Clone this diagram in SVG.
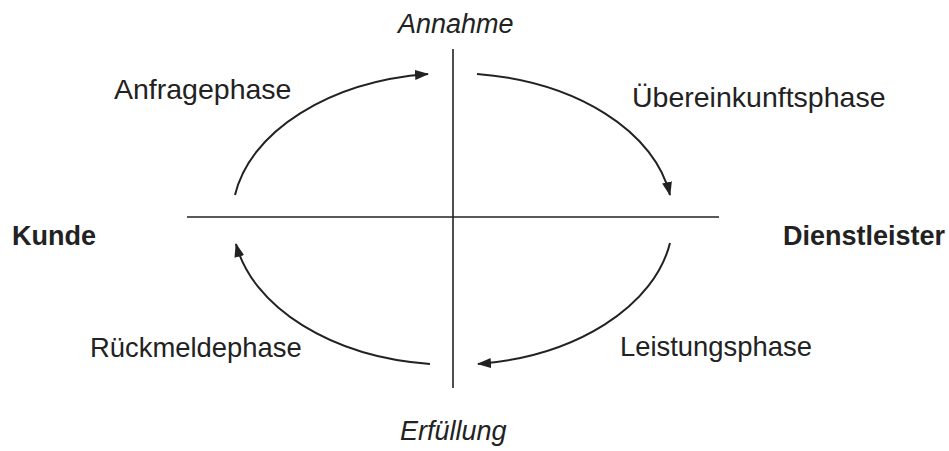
<svg xmlns="http://www.w3.org/2000/svg" width="949" height="451" viewBox="0 0 949 451">
<style>
text{font-family:"Liberation Sans",Arial,sans-serif;font-size:28.5px;fill:#222}
.it{font-style:italic;font-size:27px}
.b{font-weight:bold;font-size:27px}
.s{font-size:27.4px}
.ax{stroke:#222;stroke-width:1.6;fill:none}
.arc{stroke:#222;stroke-width:2;fill:none;marker-end:url(#ah)}
</style>
<defs>
<marker id="ah" viewBox="0 0 14 10" refX="13" refY="5" markerWidth="14" markerHeight="10" markerUnits="userSpaceOnUse" orient="auto">
<path d="M0,0 L14,5 L0,10 Z" fill="#222"/>
</marker>
</defs>
<g id="axes">
<line class="ax" x1="453" y1="49" x2="453" y2="388"/>
<line class="ax" x1="187" y1="217" x2="719" y2="217"/>
</g>
<g id="connectors">
<path class="arc" d="M235,195 A221,144 0 0 1 428,74"/>
<path class="arc" d="M477,74 A221,144 0 0 1 670,195"/>
<path class="arc" d="M670,243 A221,146 0 0 1 478,364"/>
<path class="arc" d="M430,364 A221,146 0 0 1 236,244"/>
</g>
<g id="annahme"><text class="it" x="398" y="33">Annahme</text></g>
<g id="erfuellung"><text class="it" x="400" y="440">Erfüllung</text></g>
<g id="kunde"><text class="b" x="12" y="245">Kunde</text></g>
<g id="dienstleister"><text class="b" x="783" y="245">Dienstleister</text></g>
<g id="anfragephase"><text x="114" y="99">Anfragephase</text></g>
<g id="uebereinkunftsphase"><text x="632" y="107">Übereinkunftsphase</text></g>
<g id="rueckmeldephase"><text class="s" x="90" y="357">Rückmeldephase</text></g>
<g id="leistungsphase"><text class="s" x="620" y="356">Leistungsphase</text></g>
</svg>
